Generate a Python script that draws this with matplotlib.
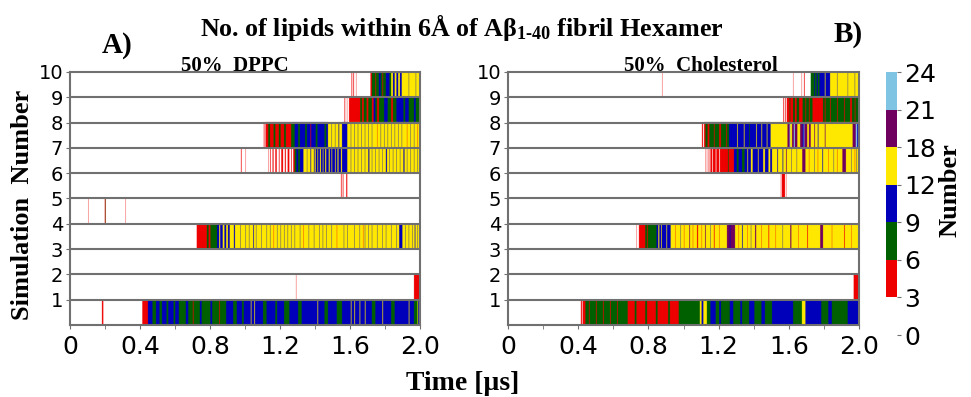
import numpy as np
import matplotlib
matplotlib.use("Agg")
import matplotlib.pyplot as plt
from matplotlib.colors import ListedColormap, BoundaryNorm

plt.rcParams['mathtext.fontset'] = 'custom'
plt.rcParams['mathtext.rm'] = 'Liberation Serif:bold'
plt.rcParams['mathtext.bf'] = 'Liberation Serif:bold'
plt.rcParams['mathtext.it'] = 'Liberation Serif:bold'

# number of lipids per simulation, run-length coded: (start time [us], count)
dppc_sim1 = [(0, 0), (0.183, 4), (0.19, 0), (0.413, 4), (0.445, 10), (0.47, 7), (0.49, 10), (0.51, 7), (0.525, 10),
             (0.55, 7), (0.56, 10), (0.59, 7), (0.60, 10), (0.62, 7), (0.66, 10), (0.675, 7), (0.70, 4), (0.705, 7),
             (0.74, 10), (0.75, 7), (0.80, 10), (0.81, 7), (0.85, 4), (0.855, 7), (0.89, 10), (0.93, 7), (0.95, 10),
             (0.98, 7), (0.99, 10), (1.03, 15), (1.035, 10), (1.05, 15), (1.055, 10), (1.10, 7), (1.12, 10),
             (1.17, 7), (1.18, 10), (1.22, 7), (1.25, 10), (1.30, 7), (1.32, 10), (1.41, 15), (1.415, 10), (1.45, 7),
             (1.47, 10), (1.52, 7), (1.55, 10), (1.60, 15), (1.605, 10), (1.62, 15), (1.625, 10), (1.65, 15),
             (1.655, 10), (1.68, 15), (1.685, 10), (1.72, 7), (1.74, 10), (1.78, 15), (1.785, 10), (1.83, 7),
             (1.85, 10), (1.93, 15), (1.935, 10), (1.96, 7), (1.98, 15), (1.985, 10)]
dppc_sim2 = [(0, 0), (1.288, 4), (1.291, 0), (1.96, 4), (1.99, 7)]
dppc_sim3 = [(0, 0)]
dppc_sim4 = [(0, 0), (0.722, 4), (0.78, 7), (0.79, 4), (0.80, 7), (0.838, 10), (0.85, 15), (0.857, 10), (0.87, 15),
             (0.88, 10), (0.89, 15), (0.90, 10), (0.91, 15), (0.935, 10), (0.94, 15), (0.97, 10), (0.973, 15),
             (1.0, 10), (1.003, 15), (1.02, 10), (1.023, 15), (1.045, 10), (1.048, 15), (1.06, 10), (1.063, 15),
             (1.09, 10), (1.093, 15), (1.12, 10), (1.123, 15), (1.14, 10), (1.143, 15), (1.16, 4), (1.163, 15),
             (1.18, 10), (1.183, 15), (1.20, 10), (1.203, 15), (1.22, 10), (1.223, 15), (1.24, 10), (1.243, 15),
             (1.26, 10), (1.263, 15), (1.28, 10), (1.283, 15), (1.31, 10), (1.313, 15), (1.33, 4), (1.333, 15),
             (1.36, 10), (1.363, 15), (1.39, 10), (1.393, 15), (1.42, 10), (1.423, 15), (1.44, 10), (1.443, 15),
             (1.46, 10), (1.463, 15), (1.49, 10), (1.493, 15), (1.52, 4), (1.523, 15), (1.56, 10), (1.563, 15),
             (1.58, 10), (1.583, 15), (1.62, 10), (1.623, 15), (1.65, 10), (1.653, 15), (1.67, 4), (1.673, 15),
             (1.68, 10), (1.683, 15), (1.70, 10), (1.703, 15), (1.72, 10), (1.723, 15), (1.75, 10), (1.753, 15),
             (1.78, 10), (1.783, 15), (1.80, 10), (1.803, 15), (1.83, 10), (1.833, 15), (1.86, 10), (1.863, 15),
             (1.876, 10), (1.895, 15), (1.91, 10), (1.913, 15), (1.93, 10), (1.933, 15), (1.95, 10), (1.953, 15),
             (1.965, 10), (1.968, 15), (1.98, 10), (1.983, 15), (1.99, 10), (1.993, 15)]
dppc_sim5 = [(0, 0), (0.104, 4), (0.107, 0), (0.198, 4), (0.20, 7), (0.202, 4), (0.204, 0), (0.316, 4), (0.319, 0)]
dppc_sim6 = [(0, 0), (1.545, 4), (1.548, 0), (1.555, 4), (1.558, 0), (1.575, 4), (1.58, 0)]
dppc_sim7 = [(0, 0), (0.975, 4), (0.978, 0), (1.0, 4), (1.003, 0), (1.13, 4), (1.133, 0), (1.14, 4), (1.145, 0),
             (1.155, 4), (1.16, 0), (1.17, 4), (1.178, 0), (1.19, 4), (1.195, 0), (1.205, 4), (1.215, 0),
             (1.225, 4), (1.23, 0), (1.24, 4), (1.25, 0), (1.26, 4), (1.265, 0), (1.272, 4), (1.28, 7), (1.29, 10),
             (1.30, 7), (1.31, 10), (1.33, 15), (1.35, 10), (1.353, 15), (1.37, 10), (1.375, 15), (1.39, 10),
             (1.395, 15), (1.40, 10), (1.41, 15), (1.415, 10), (1.425, 15), (1.43, 10), (1.44, 15), (1.445, 10),
             (1.455, 15), (1.46, 10), (1.475, 15), (1.48, 10), (1.49, 15), (1.495, 10), (1.51, 15), (1.515, 10),
             (1.525, 15), (1.53, 10), (1.545, 15), (1.55, 10), (1.58, 15), (1.60, 10), (1.603, 15), (1.62, 10),
             (1.623, 15), (1.64, 10), (1.643, 15), (1.66, 10), (1.663, 15), (1.68, 10), (1.683, 15), (1.70, 10),
             (1.706, 15), (1.72, 10), (1.723, 15), (1.74, 10), (1.743, 15), (1.76, 10), (1.763, 15), (1.78, 10),
             (1.783, 15), (1.80, 10), (1.806, 15), (1.82, 10), (1.823, 15), (1.84, 10), (1.843, 15), (1.86, 10),
             (1.863, 15), (1.88, 10), (1.883, 15), (1.90, 10), (1.906, 15), (1.92, 10), (1.923, 15), (1.94, 10),
             (1.943, 15), (1.96, 10), (1.963, 15), (1.98, 10), (1.983, 15)]
dppc_sim8 = [(0, 0), (1.105, 4), (1.108, 0), (1.115, 4), (1.13, 7), (1.14, 4), (1.16, 7), (1.17, 4), (1.19, 7),
             (1.20, 4), (1.22, 7), (1.23, 4), (1.26, 7), (1.28, 10), (1.30, 7), (1.31, 10), (1.34, 7), (1.35, 10),
             (1.37, 4), (1.375, 10), (1.40, 7), (1.41, 10), (1.45, 7), (1.46, 10), (1.47, 15), (1.49, 10),
             (1.493, 15), (1.51, 10), (1.513, 15), (1.53, 10), (1.535, 15), (1.55, 10), (1.58, 15), (1.60, 10),
             (1.603, 15), (1.62, 10), (1.623, 15), (1.64, 10), (1.643, 15), (1.66, 10), (1.663, 15), (1.68, 10),
             (1.683, 15), (1.70, 10), (1.703, 15), (1.72, 10), (1.723, 15), (1.75, 4), (1.753, 15), (1.77, 10),
             (1.773, 15), (1.79, 10), (1.793, 15), (1.81, 10), (1.813, 15), (1.83, 10), (1.833, 15), (1.85, 10),
             (1.853, 15), (1.87, 10), (1.873, 15), (1.89, 10), (1.893, 15), (1.92, 4), (1.923, 15), (1.94, 10),
             (1.943, 15), (1.96, 10), (1.963, 15), (1.98, 4), (1.983, 15)]
dppc_sim9 = [(0, 0), (1.565, 4), (1.568, 0), (1.578, 4), (1.581, 0), (1.59, 4), (1.655, 7), (1.665, 4), (1.675, 7),
             (1.69, 4), (1.70, 7), (1.72, 4), (1.73, 10), (1.74, 7), (1.75, 4), (1.76, 7), (1.79, 10), (1.81, 7),
             (1.83, 4), (1.84, 7), (1.86, 10), (1.90, 7), (1.91, 10), (1.93, 7), (1.96, 10), (1.97, 7)]
dppc_sim10 = [(0, 0), (1.605, 4), (1.608, 0), (1.615, 4), (1.618, 0), (1.63, 4), (1.633, 0), (1.712, 4), (1.72, 7),
              (1.74, 4), (1.745, 7), (1.76, 10), (1.77, 7), (1.78, 4), (1.785, 7), (1.80, 10), (1.82, 7), (1.83, 15),
              (1.84, 10), (1.85, 15), (1.86, 10), (1.87, 15), (1.88, 10), (1.89, 15), (1.93, 10), (1.933, 15),
              (1.97, 10), (1.973, 15)]

chol_sim1 = [(0, 0), (0.415, 4), (0.42, 0), (0.425, 4), (0.44, 7), (0.46, 4), (0.465, 7), (0.50, 4), (0.505, 7),
             (0.54, 4), (0.545, 7), (0.58, 4), (0.585, 7), (0.62, 4), (0.625, 7), (0.68, 4), (0.72, 7), (0.73, 4),
             (0.78, 7), (0.79, 4), (0.84, 7), (0.85, 4), (0.91, 7), (0.92, 4), (0.97, 7), (1.09, 15), (1.10, 10),
             (1.11, 15), (1.13, 7), (1.15, 10), (1.18, 7), (1.20, 10), (1.21, 7), (1.26, 10), (1.28, 7), (1.32, 10),
             (1.33, 7), (1.37, 10), (1.40, 7), (1.44, 10), (1.46, 7), (1.50, 10), (1.62, 7), (1.67, 15), (1.69, 10),
             (1.78, 7), (1.82, 10), (1.84, 7), (1.93, 10)]
chol_sim2 = [(0, 0), (1.965, 4)]
chol_sim3 = [(0, 0)]
chol_sim4 = [(0, 0), (0.73, 4), (0.733, 0), (0.745, 4), (0.78, 7), (0.79, 4), (0.795, 7), (0.845, 10), (0.855, 15),
             (0.86, 10), (0.87, 15), (0.875, 10), (0.90, 15), (0.905, 10), (0.925, 15), (0.95, 4), (0.953, 15),
             (0.98, 10), (0.983, 15), (1.00, 4), (1.003, 15), (1.03, 19), (1.035, 15), (1.05, 4), (1.053, 15),
             (1.075, 4), (1.08, 15), (1.10, 4), (1.103, 15), (1.12, 19), (1.125, 15), (1.15, 10), (1.153, 15),
             (1.17, 4), (1.175, 15), (1.20, 4), (1.203, 15), (1.245, 19), (1.26, 10), (1.265, 19), (1.29, 15),
             (1.31, 4), (1.313, 15), (1.33, 10), (1.335, 15), (1.36, 4), (1.363, 15), (1.38, 10), (1.383, 15),
             (1.405, 19), (1.41, 15), (1.44, 4), (1.443, 15), (1.48, 4), (1.485, 15), (1.52, 4), (1.523, 15),
             (1.56, 10), (1.563, 15), (1.605, 19), (1.61, 15), (1.65, 4), (1.653, 15), (1.70, 4), (1.705, 15),
             (1.775, 19), (1.79, 15), (1.84, 4), (1.843, 15), (1.91, 4), (1.915, 15), (1.95, 4), (1.953, 15)]
chol_sim5 = [(0, 0)]
chol_sim6 = [(0, 0), (1.55, 4), (1.553, 0), (1.556, 4), (1.575, 0), (1.58, 4), (1.583, 0)]
chol_sim7 = [(0, 0), (1.122, 4), (1.125, 0), (1.13, 4), (1.133, 0), (1.14, 4), (1.145, 0), (1.151, 4), (1.16, 0),
             (1.165, 4), (1.18, 0), (1.185, 4), (1.20, 0), (1.205, 4), (1.25, 7), (1.255, 4), (1.284, 10), (1.30, 7),
             (1.31, 10), (1.33, 7), (1.345, 10), (1.36, 15), (1.365, 10), (1.38, 15), (1.39, 10), (1.42, 15),
             (1.425, 10), (1.45, 15), (1.46, 10), (1.48, 15), (1.49, 10), (1.50, 15), (1.53, 10), (1.535, 15),
             (1.56, 10), (1.565, 15), (1.58, 19), (1.585, 15), (1.61, 10), (1.613, 15), (1.64, 10), (1.643, 15),
             (1.673, 19), (1.69, 15), (1.71, 4), (1.713, 15), (1.74, 10), (1.743, 15), (1.76, 4), (1.763, 15),
             (1.786, 10), (1.79, 15), (1.82, 4), (1.823, 15), (1.85, 10), (1.853, 15), (1.87, 4), (1.873, 15),
             (1.90, 19), (1.92, 15), (1.95, 10), (1.953, 15), (1.97, 4), (1.973, 15), (1.98, 10), (1.983, 15)]
chol_sim8 = [(0, 0), (1.103, 4), (1.108, 0), (1.115, 4), (1.122, 7), (1.135, 4), (1.145, 7), (1.17, 4), (1.175, 7),
             (1.20, 4), (1.21, 7), (1.24, 4), (1.245, 7), (1.256, 10), (1.303, 15), (1.307, 10), (1.34, 15),
             (1.345, 10), (1.37, 7), (1.375, 10), (1.41, 15), (1.415, 10), (1.44, 15), (1.445, 10), (1.47, 15),
             (1.475, 10), (1.493, 15), (1.588, 19), (1.60, 22), (1.605, 15), (1.615, 19), (1.624, 22), (1.63, 19),
             (1.645, 15), (1.66, 19), (1.675, 10), (1.68, 22), (1.685, 19), (1.70, 15), (1.71, 19), (1.72, 15),
             (1.74, 19), (1.745, 15), (1.76, 10), (1.765, 15), (1.80, 19), (1.805, 15), (1.958, 19), (1.977, 22),
             (1.985, 10), (1.99, 22)]
chol_sim9 = [(0, 0), (1.565, 4), (1.568, 0), (1.575, 4), (1.578, 0), (1.585, 4), (1.60, 7), (1.605, 4), (1.62, 7),
             (1.63, 4), (1.64, 7), (1.655, 4), (1.675, 7), (1.69, 4), (1.695, 7), (1.71, 4), (1.715, 7), (1.73, 4),
             (1.79, 7), (1.80, 4), (1.805, 7), (1.83, 4), (1.835, 7), (1.87, 4), (1.875, 7), (1.91, 4), (1.915, 7),
             (1.945, 4), (1.955, 7), (1.97, 4), (1.975, 7)]
chol_sim10 = [(0, 0), (0.876, 4), (0.879, 0), (1.62, 4), (1.623, 0), (1.668, 4), (1.671, 0), (1.683, 4), (1.686, 0),
              (1.72, 7), (1.74, 10), (1.745, 7), (1.755, 10), (1.76, 7), (1.77, 10), (1.80, 15), (1.805, 10),
              (1.83, 15), (1.87, 10), (1.873, 15), (1.93, 10), (1.933, 15), (1.97, 10), (1.973, 15)]

dppc_rows = [dppc_sim1, dppc_sim2, dppc_sim3, dppc_sim4, dppc_sim5,
             dppc_sim6, dppc_sim7, dppc_sim8, dppc_sim9, dppc_sim10]
chol_rows = [chol_sim1, chol_sim2, chol_sim3, chol_sim4, chol_sim5,
             chol_sim6, chol_sim7, chol_sim8, chol_sim9, chol_sim10]

bounds = [0, 3, 6, 9, 12, 18, 21, 24]
colors = ['white', '#ee0000', '#006000', '#0000bb', '#ffe800', '#700060', '#80c4e4']
cmap = ListedColormap(colors)
norm = BoundaryNorm(bounds, cmap.N)

n_frames = 1000
t = (np.arange(n_frames) + 0.5) * 2.0 / n_frames


def build_image(rows):
    img = np.zeros((len(rows), n_frames))
    for i, segs in enumerate(rows):
        starts = np.array([s[0] for s in segs])
        vals = np.array([s[1] for s in segs])
        idx = np.searchsorted(starts, t, side='right') - 1
        img[i] = vals[idx]
    # repeat rows so the smoothing only works along time
    return np.repeat(img, 25, axis=0)


grey = '#707070'
serif = 'Liberation Serif'

fig = plt.figure(figsize=(9.71, 3.97), dpi=100)
ax1 = fig.add_axes([0.0721, 0.1814, 0.3605, 0.6373])
ax2 = fig.add_axes([0.5232, 0.1814, 0.3615, 0.6373])

for ax, rows, sub, sx in [(ax1, dppc_rows, '50%  DPPC', 0.47), (ax2, chol_rows, '50%  Cholesterol', 0.55)]:
    im = ax.imshow(build_image(rows), cmap=cmap, norm=norm, origin='lower', aspect='auto',
                   extent=[0, 2, 0, 10], interpolation='antialiased', interpolation_stage='rgba')
    ax.hlines(np.arange(1, 10), 0, 2, colors=grey, lw=1.5, zorder=3)
    ax.set_xlim(0, 2)
    ax.set_ylim(0, 10)
    ax.set_xticks([0, 0.4, 0.8, 1.2, 1.6, 2.0])
    ax.set_xticklabels(['0', '0.4', '0.8', '1.2', '1.6', '2.0'])
    ax.set_xticks(np.arange(0.2, 2.0, 0.4), minor=True)
    ax.set_yticks(range(1, 11))
    ax.tick_params(axis='x', labelsize=18, length=3, color=grey, pad=4)
    ax.tick_params(axis='x', which='minor', length=3, color=grey)
    ax.tick_params(axis='y', labelsize=14, length=3, color=grey, pad=2)
    for sp in ax.spines.values():
        sp.set_color(grey)
        sp.set_linewidth(1.5)
    ax.text(sx, 0.985, sub, transform=ax.transAxes, ha='center', va='bottom',
            family=serif, weight='bold', fontsize=15)

cax = fig.add_axes([0.9125, 0.156, 0.0113, 0.6625])
cb = fig.colorbar(im, cax=cax, ticks=bounds)
cb.outline.set_visible(False)
cax.tick_params(labelsize=18, length=3, color=grey, pad=2)
fig.text(0.978, 0.52, 'Number', rotation=90, ha='center', va='center',
         family=serif, weight='bold', fontsize=19)

fig.text(0.476, 0.93, r'No. of lipids within 6Å of A$\beta_{\text{1-40}}$ fibril Hexamer',
         ha='center', va='center', family=serif, weight='bold', fontsize=18.7)
fig.text(0.121, 0.885, 'A)', ha='center', va='center', family=serif, weight='bold', fontsize=21)
fig.text(0.873, 0.912, 'B)', ha='center', va='center', family=serif, weight='bold', fontsize=21)
fig.text(0.023, 0.485, 'Simulation  Number', rotation=90, ha='center', va='center',
         family=serif, weight='bold', fontsize=19)
fig.text(0.476, 0.035, 'Time [µs]', ha='center', va='center', family=serif, weight='bold', fontsize=20)

fig.savefig('out.png', dpi=100)
